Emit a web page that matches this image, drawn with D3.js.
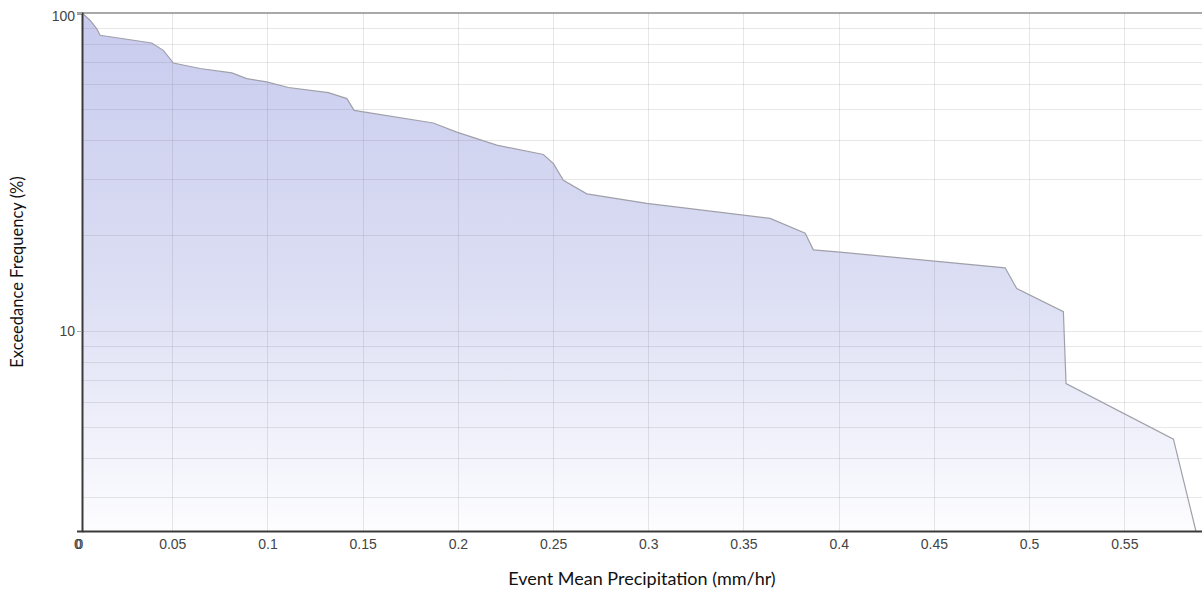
<!DOCTYPE html>
<html>
<head>
<meta charset="utf-8">
<script src="https://cdn.jsdelivr.net/npm/d3@7"></script>
<style>
    html, body { margin: 0; padding: 0; background: #fff; }
    svg { display: block; }
</style>
</head>
<body>
<svg id="chart" width="1202" height="591"></svg>
<script>
'use strict';

// precipitation (mm/hr) and exceedance frequency (%)
const precipitation = [
    0.0026, 0.0068, 0.0103, 0.0121, 0.0392, 0.0453, 0.0506, 0.0646, 0.0813,
    0.0891, 0.0996, 0.1110, 0.1320, 0.1417, 0.1455, 0.1871, 0.1994, 0.2204,
    0.2449, 0.2502, 0.2554, 0.2677, 0.2992, 0.3640, 0.3824, 0.3867, 0.4007,
    0.4874, 0.4935, 0.5180, 0.5194, 0.5758, 0.5876
];
const exceedance = [
    100, 94.9, 89.3, 85.1, 80.5, 76.3, 69.6, 66.9, 64.8,
    62.2, 60.7, 58.3, 56.2, 53.8, 49.4, 45.1, 42.2, 38.4,
    35.9, 33.6, 29.8, 27.0, 25.2, 22.6, 20.3, 18.0, 17.7,
    15.8, 13.6, 11.5, 6.83, 4.57, 2.35
];
const xTicks = [0.05, 0.1, 0.15, 0.2, 0.25, 0.3, 0.35, 0.4, 0.45, 0.5, 0.55];
const yLabels = [10, 100];
const yGrid = [3, 4, 5, 6, 7, 8, 9, 10, 20, 30, 40, 50, 60, 70, 80, 90];

const PLOT = { left: 82, top: 13, right: 1202, bottom: 531 };
const FONT_TICK = '"Liberation Sans", Arial, sans-serif';
const FONT_TITLE = 'Lato, "Open Sans", sans-serif';

const svg = d3.select('#chart');

const x = d3.scaleLinear()
    .domain([0.0026, 0.5908])
    .range([PLOT.left, PLOT.right]);

const y = d3.scaleLog()
    .domain([2.35, 100])
    .range([PLOT.bottom, PLOT.top]);

const data = precipitation.map((p, i) => ({ p: p, e: exceedance[i] }));

// vertical fade of the area fill
let grad = svg.append('defs').append('linearGradient')
    .attr('id', 'fade')
    .attr('gradientUnits', 'userSpaceOnUse')
    .attr('x1', 0).attr('x2', 0)
    .attr('y1', PLOT.top).attr('y2', PLOT.bottom);

grad.append('stop').attr('offset', 0).attr('stop-color', '#c8cbee');
grad.append('stop').attr('offset', 0.55).attr('stop-color', '#dddff4');
grad.append('stop').attr('offset', 1).attr('stop-color', '#fdfdff');

let area = d3.area()
    .x((d) => x(d.p))
    .y0(PLOT.bottom)
    .y1((d) => y(d.e));

svg.append('path')
    .datum(data)
    .attr('d', area)
    .attr('fill', 'url(#fade)');

// grid goes over the fill, it shows through in the reference
let grid = svg.append('g').attr('stroke', 'rgba(110,110,120,0.17)').attr('stroke-width', 1);

grid.selectAll('line.v')
    .data(xTicks)
    .enter()
    .append('line')
    .attr('class', 'v')
    .attr('x1', (d) => Math.round(x(d)) + 0.5)
    .attr('x2', (d) => Math.round(x(d)) + 0.5)
    .attr('y1', PLOT.top)
    .attr('y2', PLOT.bottom);

grid.selectAll('line.h')
    .data(yGrid)
    .enter()
    .append('line')
    .attr('class', 'h')
    .attr('x1', PLOT.left)
    .attr('x2', PLOT.right)
    .attr('y1', (d) => Math.round(y(d)) + 0.5)
    .attr('y2', (d) => Math.round(y(d)) + 0.5);

svg.append('path')
    .datum(data)
    .attr('d', d3.line().x((d) => x(d.p)).y((d) => y(d.e)))
    .attr('fill', 'none')
    .attr('stroke', '#a0a0aa')
    .attr('stroke-width', 1.2);

// top frame line
svg.append('line')
    .attr('x1', PLOT.left).attr('x2', PLOT.right)
    .attr('y1', PLOT.top).attr('y2', PLOT.top)
    .attr('stroke', '#8c8c8c')
    .attr('stroke-width', 1.5);

// axes
let xAxis = svg.append('g')
    .attr('transform', `translate(0,${PLOT.bottom})`)
    .call(d3.axisBottom(x).tickValues(xTicks).tickSize(0).tickPadding(8).tickFormat(d3.format('')));

let yAxis = svg.append('g')
    .attr('transform', `translate(${PLOT.left},0)`)
    .call(d3.axisLeft(y).tickValues(yLabels).tickSize(5).tickPadding(2).tickFormat(d3.format('d')));

[xAxis, yAxis].forEach((g) => {
    g.select('.domain').attr('stroke', '#3a3a3a').attr('stroke-width', 2);
    g.selectAll('.tick line').attr('stroke', '#aaa');
    g.selectAll('text')
        .attr('fill', '#444')
        .style('font-family', FONT_TICK)
        .style('font-size', '14px');
});

yAxis.select('.tick:last-of-type text').attr('dy', '0.5em');

// the two overlapping zero labels in the corner
svg.selectAll('text.zero')
    .data([78, 79.5])
    .enter()
    .append('text')
    .attr('class', 'zero')
    .attr('x', (d) => d)
    .attr('y', 549)
    .attr('text-anchor', 'middle')
    .attr('fill', '#444')
    .style('font-family', FONT_TICK)
    .style('font-size', '14px')
    .text('0');

svg.append('text')
    .attr('x', 642)
    .attr('y', 585)
    .attr('text-anchor', 'middle')
    .attr('fill', '#111')
    .style('font-family', FONT_TITLE)
    .style('font-size', '18px')
    .text('Event Mean Precipitation (mm/hr)');

svg.append('text')
    .attr('transform', 'translate(23,272) rotate(-90)')
    .attr('text-anchor', 'middle')
    .attr('fill', '#111')
    .style('font-family', FONT_TITLE)
    .style('font-size', '16.5px')
    .text('Exceedance Frequency (%)');
</script>
</body>
</html>
